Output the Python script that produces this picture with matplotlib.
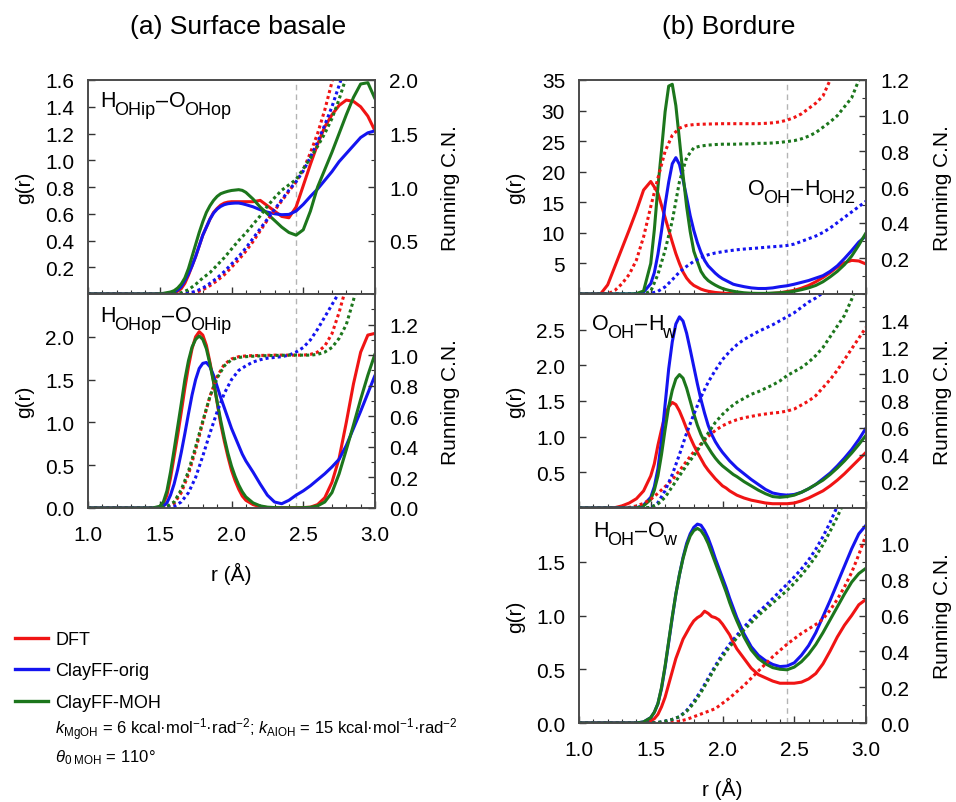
import numpy as np
import matplotlib
matplotlib.use('Agg')
import matplotlib.pyplot as plt
from matplotlib.lines import Line2D
from matplotlib.ticker import MultipleLocator

plt.rcParams['font.family'] = ['Liberation Sans', 'DejaVu Sans']
plt.rcParams['mathtext.fontset'] = 'custom'
plt.rcParams['mathtext.rm'] = 'Liberation Sans'
plt.rcParams['mathtext.it'] = 'Liberation Sans:italic'
plt.rcParams['mathtext.bf'] = 'Liberation Sans:bold'

nan = np.nan

# r grids (Å); g(r) is read finer around the first peak
r_g = np.concatenate([np.linspace(1.0, 1.45, 10),
                      np.linspace(1.5, 2.075, 24),
                      np.linspace(2.1, 3.0, 19)])
r_cn = np.linspace(1.0, 3.0, 41)

MODELS = ['DFT', 'ClayFF-orig', 'ClayFF-MOH']
COLORS = ['#f01414', '#1414f0', '#1c761c']

# (a) top: H_OHip - O_OHop
g_a1_dft = [0]*10 + [0, 0.001, 0.002, 0.004, 0.007, 0.02, 0.04, 0.08, 0.14, 0.21, 0.28, 0.36, 0.44, 0.50, 0.56,
                     0.61, 0.64, 0.665, 0.68, 0.687, 0.69, 0.69, 0.69, 0.69] + \
           [0.69, 0.69, 0.70, 0.66, 0.62, 0.58, 0.57, 0.65, 0.81, 0.97, 1.12, 1.25, 1.34, 1.41, 1.45, 1.44, 1.40, 1.33, 1.22]
g_a1_orig = [0]*10 + [0.001, 0.002, 0.004, 0.007, 0.012, 0.03, 0.055, 0.10, 0.15, 0.21, 0.28, 0.36, 0.44, 0.50, 0.56,
                      0.605, 0.635, 0.655, 0.668, 0.675, 0.678, 0.68, 0.68, 0.675] + \
            [0.668, 0.652, 0.63, 0.612, 0.60, 0.593, 0.595, 0.62, 0.67, 0.73, 0.785, 0.85, 0.915, 0.99, 1.05, 1.11, 1.17, 1.205, 1.22]
g_a1_moh = [0]*10 + [0.002, 0.005, 0.01, 0.015, 0.025, 0.045, 0.075, 0.12, 0.19, 0.28, 0.37, 0.46, 0.54, 0.61, 0.66,
                     0.70, 0.73, 0.75, 0.76, 0.768, 0.774, 0.777, 0.78, 0.775] + \
           [0.76, 0.71, 0.65, 0.60, 0.55, 0.50, 0.46, 0.44, 0.48, 0.62, 0.80, 0.93, 1.06, 1.20, 1.34, 1.47, 1.57, 1.58, 1.46]
cn_a1_dft = [0]*10 + [0, 0, 0, 0.001, 0.003, 0.012, 0.04, 0.078, 0.125, 0.18, 0.25, 0.32, 0.40, 0.49, 0.59, 0.69, 0.78,
                      0.87, 0.96, 1.05, 1.16, 1.32, 1.50, 1.72, 1.98, 2.25, nan, nan, nan, nan, nan]
cn_a1_orig = [0]*10 + [0, 0, 0, 0.002, 0.008, 0.025, 0.055, 0.10, 0.15, 0.21, 0.28, 0.35, 0.43, 0.52, 0.61, 0.70, 0.79,
                       0.88, 0.97, 1.05, 1.15, 1.28, 1.42, 1.58, 1.75, 1.95, 2.15, nan, nan, nan, nan]
cn_a1_moh = [0]*10 + [0, 0.002, 0.005, 0.012, 0.04, 0.09, 0.15, 0.20, 0.27, 0.34, 0.42, 0.50, 0.57, 0.65, 0.73, 0.82,
                      0.90, 0.97, 1.02, 1.07, 1.17, 1.27, 1.38, 1.50, 1.64, 1.82, 2.03, nan, nan, nan, nan]

# (a) bottom: H_OHop - O_OHip
g_a2_dft = [0]*10 + [0.01, 0.05, 0.15, 0.35, 0.60, 0.85, 1.12, 1.40, 1.65, 1.86, 2.00, 2.06, 2.02, 1.90, 1.70,
                     1.48, 1.23, 0.98, 0.78, 0.60, 0.44, 0.32, 0.22, 0.14] + \
           [0.09, 0.04, 0.015, 0.005, 0.003, 0.003, 0.003, 0.003, 0.005, 0.01, 0.04, 0.12, 0.30, 0.58, 1.00, 1.45, 1.82, 2.02, 2.04]
g_a2_orig = [0]*10 + [0.005, 0.02, 0.06, 0.15, 0.28, 0.45, 0.65, 0.87, 1.10, 1.32, 1.50, 1.63, 1.69, 1.70, 1.65,
                      1.55, 1.42, 1.29, 1.17, 1.05, 0.93, 0.83, 0.73, 0.63] + \
            [0.55, 0.42, 0.28, 0.15, 0.07, 0.05, 0.09, 0.15, 0.20, 0.26, 0.33, 0.40, 0.48, 0.57, 0.73, 0.93, 1.13, 1.34, 1.55]
g_a2_moh = [0]*10 + [0.02, 0.07, 0.20, 0.42, 0.68, 0.95, 1.22, 1.50, 1.72, 1.88, 1.97, 2.01, 1.97, 1.86, 1.68,
                     1.47, 1.24, 1.02, 0.82, 0.64, 0.49, 0.37, 0.27, 0.19] + \
           [0.13, 0.06, 0.025, 0.01, 0.005, 0.003, 0.003, 0.003, 0.004, 0.008, 0.025, 0.07, 0.18, 0.40, 0.68, 0.97, 1.27, 1.55, 1.80]
cn_a2_dft = [0]*10 + [0, 0.005, 0.03, 0.10, 0.22, 0.38, 0.56, 0.73, 0.86, 0.94, 0.975, 0.99, 0.995, 0.997, 0.998,
                      0.999, 1.0, 1.0, 1.0, 1.0, 1.0, 1.005, 1.02, 1.06, 1.14, 1.28, 1.45, nan, nan, nan, nan]
cn_a2_orig = [0]*10 + [0, 0.003, 0.01, 0.04, 0.10, 0.20, 0.34, 0.49, 0.63, 0.75, 0.84, 0.90, 0.93, 0.955, 0.97,
                       0.98, 0.985, 0.99, 1.0, 1.02, 1.05, 1.10, 1.17, 1.25, 1.33, 1.41, nan, nan, nan, nan, nan]
cn_a2_moh = [0]*10 + [0.002, 0.01, 0.04, 0.12, 0.24, 0.40, 0.57, 0.73, 0.85, 0.93, 0.97, 0.985, 0.99, 0.993, 0.995,
                      0.997, 0.998, 0.999, 1.0, 1.0, 1.0, 1.0, 1.005, 1.02, 1.05, 1.11, 1.20, 1.36, 1.55, nan, nan]

# (b) top: O_OH - H_OH2
g_b1_dft = [0, 0, 0, 0, 1.5, 4.5, 7.5, 10.5, 13.6, 17.0] + \
           [18.4, 17.5, 16.5, 14.5, 12.5, 10.5, 8.5, 6.6, 5.0, 3.6, 2.6, 1.9, 1.4, 1.1, 0.8,
            0.6, 0.45, 0.35, 0.25, 0.2, 0.15, 0.1, 0.08, 0.05] + \
           [0.04, 0.02, 0.01, 0.01, 0.05, 0.1, 0.2, 0.4, 0.6, 0.95, 1.4, 2.0, 2.7, 3.5, 4.4, 5.1, 5.5, 5.4, 4.9]
g_b1_orig = [0]*8 + [0.02, 0.3] + \
            [1.7, 3.5, 6.5, 10.3, 14.6, 18.3, 21.3, 22.3, 21.2, 18.7, 15.8, 12.8, 10.4, 8.4, 6.8,
             5.5, 4.6, 4.0, 3.4, 2.9, 2.5, 2.2, 1.9, 1.6] + \
            [1.45, 1.2, 1.0, 0.9, 0.9, 1.0, 1.2, 1.35, 1.6, 1.9, 2.2, 2.6, 3.0, 3.7, 4.6, 5.8, 7.1, 8.5, 9.5]
g_b1_moh = [0]*8 + [0.05, 0.5] + \
           [5.0, 10.5, 17.5, 23.5, 29.8, 34.0, 34.3, 30.8, 25.2, 19.5, 14.3, 10.2, 7.0, 5.3, 3.7,
            2.8, 2.2, 1.8, 1.45, 1.15, 0.9, 0.72, 0.57, 0.45] + \
           [0.35, 0.2, 0.12, 0.1, 0.1, 0.15, 0.2, 0.3, 0.45, 0.7, 1.0, 1.4, 2.0, 2.8, 3.7, 4.8, 6.2, 8.0, 10.0]
cn_b1_dft = [0, 0, 0, 0, 0, 0.02, 0.058, 0.11, 0.19, 0.32] + \
            [0.49, 0.65, 0.80, 0.89, 0.93, 0.945, 0.95, 0.952, 0.953, 0.954, 0.955, 0.955, 0.955, 0.955, 0.955,
             0.955, 0.957, 0.96, 0.965, 0.975, 0.99, 1.01, 1.04, 1.07, 1.11, 1.20, 1.30, nan, nan, nan, nan]
cn_b1_orig = [0]*10 + [0.003, 0.015, 0.04, 0.08, 0.123, 0.155, 0.183, 0.205, 0.22, 0.23, 0.237, 0.243, 0.248, 0.252,
                       0.255, 0.258, 0.262, 0.265, 0.268, 0.272, 0.28, 0.295, 0.31, 0.325, 0.345, 0.37, 0.40, 0.43,
                       0.46, 0.49, 0.52]
cn_b1_moh = [0]*10 + [0.015, 0.11, 0.245, 0.41, 0.63, 0.765, 0.82, 0.83, 0.835, 0.838, 0.84, 0.84, 0.84, 0.842, 0.842,
                      0.845, 0.845, 0.847, 0.85, 0.855, 0.86, 0.87, 0.885, 0.905, 0.935, 0.965, 1.0, 1.05, 1.10,
                      1.20, 1.30]

# (b) middle: O_OH - H_w
g_b2_dft = [0, 0, 0, 0, 0, 0.005, 0.03, 0.07, 0.13, 0.24] + \
           [0.45, 0.62, 0.88, 1.10, 1.30, 1.42, 1.48, 1.45, 1.36, 1.24, 1.11, 0.99, 0.88, 0.78, 0.69,
            0.60, 0.53, 0.47, 0.41, 0.36, 0.31, 0.28, 0.24, 0.21] + \
           [0.18, 0.14, 0.11, 0.09, 0.07, 0.06, 0.06, 0.06, 0.07, 0.10, 0.14, 0.19, 0.24, 0.31, 0.39, 0.48, 0.58, 0.68, 0.78]
g_b2_orig = [0]*9 + [0.04] + \
            [0.15, 0.30, 0.55, 0.95, 1.45, 1.95, 2.33, 2.58, 2.68, 2.62, 2.45, 2.22, 1.98, 1.74, 1.52,
             1.33, 1.16, 1.03, 0.93, 0.85, 0.78, 0.72, 0.66, 0.61] + \
            [0.56, 0.48, 0.40, 0.33, 0.26, 0.21, 0.19, 0.18, 0.19, 0.22, 0.27, 0.33, 0.41, 0.49, 0.59, 0.70, 0.82, 0.96, 1.12]
g_b2_moh = [0]*9 + [0.03] + \
           [0.12, 0.25, 0.45, 0.75, 1.10, 1.42, 1.65, 1.81, 1.87, 1.82, 1.68, 1.50, 1.32, 1.16, 1.03,
            0.93, 0.85, 0.77, 0.70, 0.64, 0.59, 0.55, 0.51, 0.47] + \
           [0.44, 0.37, 0.31, 0.25, 0.20, 0.16, 0.15, 0.16, 0.18, 0.22, 0.27, 0.33, 0.39, 0.47, 0.56, 0.66, 0.77, 0.89, 1.02]
cn_b2_dft = [0, 0, 0, 0, 0, 0, 0, 0.005, 0.015, 0.035] + \
            [0.065, 0.11, 0.16, 0.21, 0.28, 0.35, 0.42, 0.48, 0.535, 0.58, 0.615, 0.64, 0.66, 0.675, 0.685,
             0.695, 0.703, 0.71, 0.715, 0.725, 0.74, 0.77, 0.80, 0.84, 0.90, 0.96, 1.03, 1.11, 1.19, 1.27, 1.35]
cn_b2_orig = [0]*10 + [0, 0.04, 0.13, 0.25, 0.40, 0.56, 0.70, 0.83, 0.94, 1.03, 1.11, 1.17, 1.22, 1.26, 1.29,
                       1.32, 1.345, 1.37, 1.40, 1.43, 1.46, 1.50, 1.54, 1.57, 1.61, 1.67, nan, nan, nan, nan, nan]
cn_b2_moh = [0]*10 + [0.005, 0.03, 0.08, 0.16, 0.24, 0.32, 0.39, 0.47, 0.56, 0.64, 0.70, 0.75, 0.79, 0.82, 0.85,
                      0.87, 0.895, 0.92, 0.95, 0.99, 1.02, 1.05, 1.09, 1.14, 1.20, 1.28, 1.36, 1.44, 1.56, 1.70, nan]

# (b) bottom: H_OH - O_w
g_b3_dft = [0]*9 + [0.005] + \
           [0.02, 0.04, 0.08, 0.15, 0.24, 0.36, 0.48, 0.60, 0.69, 0.78, 0.84, 0.90, 0.95, 0.98, 1.00,
            1.04, 1.02, 0.99, 0.98, 0.96, 0.92, 0.87, 0.82, 0.75] + \
           [0.69, 0.60, 0.51, 0.45, 0.42, 0.39, 0.37, 0.37, 0.37, 0.38, 0.41, 0.46, 0.55, 0.67, 0.80, 0.91, 1.00, 1.10, 1.15]
g_b3_orig = [0]*9 + [0.01] + \
            [0.05, 0.10, 0.18, 0.32, 0.52, 0.75, 0.98, 1.20, 1.38, 1.54, 1.67, 1.76, 1.82, 1.85, 1.84,
             1.79, 1.72, 1.63, 1.53, 1.44, 1.35, 1.26, 1.16, 1.07] + \
            [0.98, 0.83, 0.71, 0.63, 0.58, 0.545, 0.525, 0.53, 0.56, 0.63, 0.72, 0.84, 0.99, 1.14, 1.30, 1.46, 1.62, 1.76, 1.84]
g_b3_moh = [0]*9 + [0.01] + \
           [0.05, 0.10, 0.18, 0.33, 0.53, 0.76, 0.99, 1.20, 1.38, 1.53, 1.65, 1.74, 1.79, 1.81, 1.79,
            1.74, 1.67, 1.58, 1.49, 1.40, 1.31, 1.22, 1.12, 1.03] + \
           [0.95, 0.80, 0.68, 0.60, 0.55, 0.515, 0.50, 0.495, 0.52, 0.57, 0.64, 0.73, 0.84, 0.96, 1.08, 1.20, 1.31, 1.39, 1.44]
cn_b3_dft = [0]*10 + [0, 0, 0, 0.003, 0.01, 0.02, 0.035, 0.05, 0.065, 0.08, 0.11, 0.14, 0.175, 0.21, 0.25, 0.29,
                      0.33, 0.37, 0.405, 0.44, 0.47, 0.50, 0.525, 0.55, 0.58, 0.63, 0.69, 0.76, 0.84, 0.94, 1.05]
cn_b3_orig = [0]*10 + [0, 0.003, 0.01, 0.02, 0.035, 0.07, 0.12, 0.18, 0.25, 0.32, 0.385, 0.44, 0.49, 0.535, 0.58,
                       0.62, 0.655, 0.695, 0.735, 0.775, 0.815, 0.86, 0.91, 0.97, 1.04, 1.12, 1.21, nan, nan, nan, nan]
cn_b3_moh = [0]*10 + [0, 0.003, 0.01, 0.02, 0.035, 0.065, 0.11, 0.17, 0.24, 0.31, 0.37, 0.425, 0.475, 0.52, 0.56,
                      0.60, 0.635, 0.67, 0.705, 0.74, 0.78, 0.825, 0.875, 0.93, 0.995, 1.07, 1.15, 1.24, nan, nan, nan]

# pair labels: (text, is_subscript) pieces
PAIR_LABELS = [
    [('H', 0), ('OHip', 1), ('–', 0), ('O', 0), ('OHop', 1)],
    [('H', 0), ('OHop', 1), ('–', 0), ('O', 0), ('OHip', 1)],
    [('O', 0), ('OH', 1), ('–', 0), ('H', 0), ('OH2', 1)],
    [('O', 0), ('OH', 1), ('–', 0), ('H', 0), ('w', 1)],
    [('H', 0), ('OH', 1), ('–', 0), ('O', 0), ('w', 1)],
]

W, H = 956, 803
fig = plt.figure(figsize=(W / 100, H / 100), dpi=100)
renderer = fig.canvas.get_renderer()


def rect(x0, y0, x1, y1):
    return [x0 / W, 1 - y1 / H, (x1 - x0) / W, (y1 - y0) / H]


def pair_label(x, y_base, pieces):
    # big gnuplot-style subscripts, placed piece by piece
    for i, (s, sub) in enumerate(pieces):
        t = fig.text(x / W, 1 - (y_base + 8 * sub) / H, s, fontsize=13 if sub else 15.5,
                     ha='left', va='baseline')
        nxt_sub = i + 1 < len(pieces) and pieces[i + 1][1]
        x += t.get_window_extent(renderer).width + (-1.5 if nxt_sub else 1.0)


def panel(box, g_sets, cn_sets, g_lim, g_ticks, cn_lim, cn_ticks, cn_minor, bottom):
    ax = fig.add_axes(rect(*box))
    ax2 = ax.twinx()
    ax.axvline(2.45, color='#b4b4b4', lw=1.0, ls=(0, (4, 3)), zorder=0)
    for ys, c in zip(g_sets, COLORS):
        ax.plot(r_g, ys, color=c, lw=2.2, solid_capstyle='round')
    for ys, c in zip(cn_sets, COLORS):
        ax2.plot(r_cn, ys, color=c, lw=2.2, ls=(0, (1, 1)))
    ax.set_xlim(1.0, 3.0)
    ax.set_ylim(*g_lim)
    ax2.set_ylim(*cn_lim)
    ax.set_yticks(g_ticks)
    ax2.set_yticks(cn_ticks)
    ax2.yaxis.set_minor_locator(MultipleLocator(cn_minor))
    ax.xaxis.set_major_locator(MultipleLocator(0.5))
    ax.xaxis.set_minor_locator(MultipleLocator(0.1))
    ax.tick_params(axis='x', which='both', direction='in', top=False, labelbottom=bottom,
                   labelsize=15, pad=12, colors='#333333', labelcolor='black')
    ax.tick_params(axis='x', which='major', length=5, width=1)
    ax.tick_params(axis='x', which='minor', length=3, width=0.8)
    ax.tick_params(axis='y', direction='in', length=5, width=1, labelsize=15, pad=10,
                   colors='#333333', labelcolor='black')
    ax2.tick_params(axis='y', which='both', direction='in', labelsize=15, pad=10,
                    colors='#333333', labelcolor='black')
    ax2.tick_params(axis='y', which='major', length=5, width=1)
    ax2.tick_params(axis='y', which='minor', length=3, width=0.8)
    for a in (ax, ax2):
        for s in a.spines.values():
            s.set_color('#4a4a4a')
            s.set_linewidth(1.2)
    yc = (box[1] + box[3]) / 2
    fig.text((box[0] - 63) / W, 1 - yc / H, 'g(r)', rotation=90, ha='center', va='center', fontsize=15)
    fig.text((box[2] + 76) / W, 1 - yc / H, 'Running C.N.', rotation=90, ha='center', va='center', fontsize=15)
    if bottom:
        fig.text((box[0] + box[2]) / 2 / W, 1 - (box[3] + 65) / H, 'r (Å)', ha='center', va='center', fontsize=15)
    return ax, ax2


panel((88, 81, 375, 295), [g_a1_dft, g_a1_orig, g_a1_moh], [cn_a1_dft, cn_a1_orig, cn_a1_moh],
      (0, 1.6), np.arange(0.2, 1.61, 0.2), (0, 2.0), [0.5, 1.0, 1.5, 2.0], 0.25, False)
panel((88, 295, 375, 509), [g_a2_dft, g_a2_orig, g_a2_moh], [cn_a2_dft, cn_a2_orig, cn_a2_moh],
      (0, 2.5), np.arange(0, 2.01, 0.5), (0, 1.4), np.arange(0, 1.21, 0.2), 0.1, True)
panel((579, 81, 866, 295), [g_b1_dft, g_b1_orig, g_b1_moh], [cn_b1_dft, cn_b1_orig, cn_b1_moh],
      (0, 35), np.arange(5, 36, 5), (0, 1.2), np.arange(0.2, 1.21, 0.2), 0.1, False)
panel((579, 295, 866, 509), [g_b2_dft, g_b2_orig, g_b2_moh], [cn_b2_dft, cn_b2_orig, cn_b2_moh],
      (0, 3.0), np.arange(0.5, 2.51, 0.5), (0, 1.6), np.arange(0.2, 1.41, 0.2), 0.1, False)
panel((579, 509, 866, 724), [g_b3_dft, g_b3_orig, g_b3_moh], [cn_b3_dft, cn_b3_orig, cn_b3_moh],
      (0, 2.0), np.arange(0, 1.51, 0.5), (0, 1.2), np.arange(0, 1.01, 0.2), 0.1, True)

pair_label(100, 107, PAIR_LABELS[0])
pair_label(100, 322, PAIR_LABELS[1])
pair_label(748, 195, PAIR_LABELS[2])
pair_label(592, 330, PAIR_LABELS[3])
pair_label(593, 537, PAIR_LABELS[4])

fig.text(238 / W, 1 - 27 / H, '(a) Surface basale', ha='center', va='center', fontsize=19)
fig.text(729 / W, 1 - 27 / H, '(b) Bordure', ha='center', va='center', fontsize=19)

handles = [Line2D([], [], color=c, lw=2.4) for c in COLORS]
fig.legend(handles, MODELS, loc='upper left', bbox_to_anchor=(15 / W, 1 - 632 / H), frameon=False,
           fontsize=13, handlelength=1.8, handletextpad=0.45, labelspacing=0.8,
           borderaxespad=0, borderpad=0)
fig.text(55 / W, 1 - 735 / H,
         r'$k_{\mathrm{MgOH}}$ = 6 kcal·mol$^{\mathrm{-1}}$·rad$^{\mathrm{-2}}$; '
         r'$k_{\mathrm{AlOH}}$ = 15 kcal·mol$^{\mathrm{-1}}$·rad$^{\mathrm{-2}}$',
         ha='left', va='baseline', fontsize=12)
fig.text(55 / W, 1 - 762 / H, r'$\theta_{0\ \mathrm{MOH}}$ = 110°', ha='left', va='baseline', fontsize=12)

fig.savefig('out.png', dpi=100)
